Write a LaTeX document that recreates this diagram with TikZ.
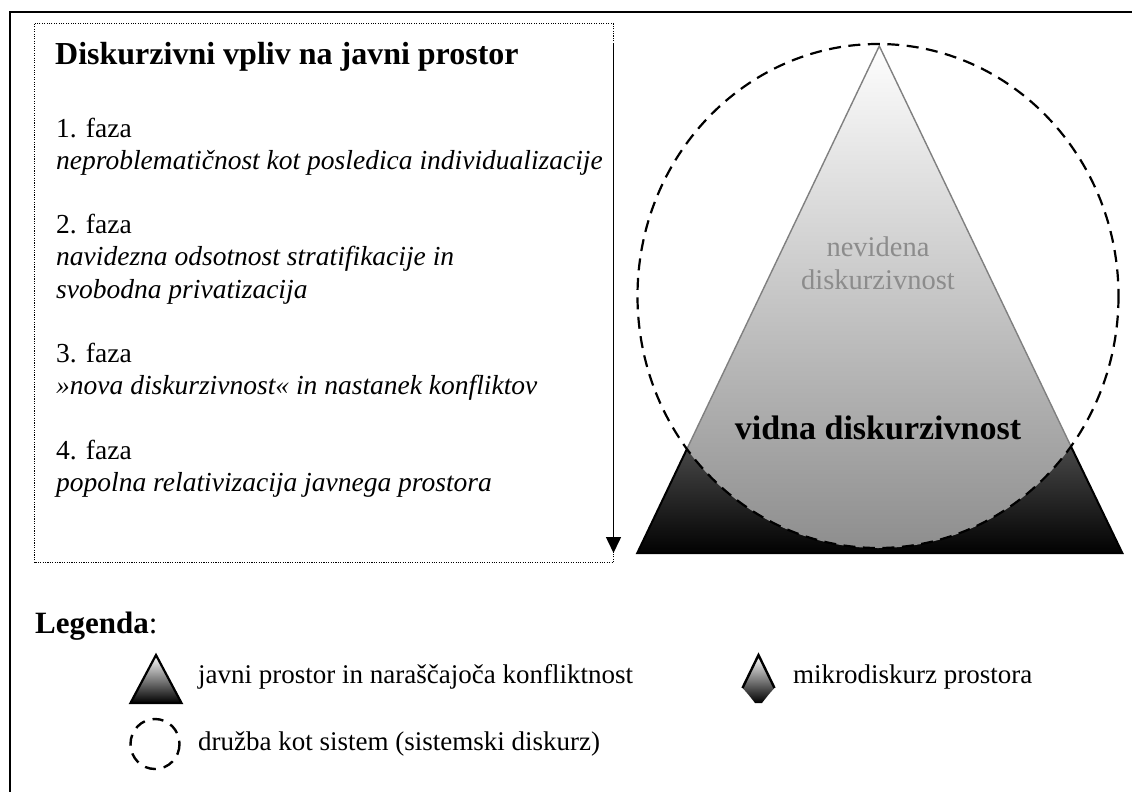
\documentclass[tikz,border=0pt]{standalone}
\usepackage{fontspec}
\setmainfont{Liberation Serif}
\usetikzlibrary{arrows.meta}
\begin{document}
\begin{tikzpicture}[x=1pt,y=-1pt,
  txt/.style={anchor=base west, inner sep=0pt, font=\fontsize{27.5}{31}\selectfont},
  itxt/.style={txt, font=\fontsize{27.5}{31}\selectfont\itshape},
  legtxt/.style={anchor=base west, inner sep=0pt, font=\fontsize{27}{31}\selectfont},
  ttl/.style={anchor=base west, inner sep=0pt, font=\fontsize{32}{36}\selectfont\bfseries},
  midtxt/.style={anchor=base, inner sep=0pt, align=center},
  dotbox/.style={line width=1pt, dash pattern=on 1.1pt off 1.3pt},
  dashcirc/.style={line width=2.2pt, dash pattern=on 12pt off 7.5pt},
  frame/.style={line width=2pt}]
\useasboundingbox (0,0) rectangle (1132,792);
\fill[white] (0,0) rectangle (1132,792);
% outer frame
\coordinate (fr1) at (10,800);
\coordinate (fr2) at (10,12);
\coordinate (fr3) at (1140,12);
\draw[frame] (fr1) -- (fr2) -- (fr3);
% dotted box
\draw[dotbox] (34,24) rectangle (613.5,562.5);
\coordinate (arrS) at (613.5,43);
\coordinate (arrE) at (613.5,553);
\draw[line width=1.5pt, -{Triangle[length=16pt,width=15pt]}] (arrS) -- (arrE);
% left text
\node[ttl] (title) at (55,65) {Diskurzivni vpliv na javni prostor};
\node[txt]  (f1)  at (56,137)   {1. faza};
\node[itxt] (f1t) at (56,169.2) {neproblematičnost kot posledica individualizacije};
\node[txt]  (f2)  at (56,233.6) {2. faza};
\node[itxt] (f2t) at (56,265.8) {navidezna odsotnost stratifikacije in};
\node[itxt] (f2u) at (56,298)   {svobodna privatizacija};
\node[txt]  (f3)  at (56,362.4) {3. faza};
\node[itxt] (f3t) at (56,394.6) {»nova diskurzivnost« in nastanek konfliktov};
\node[txt]  (f4)  at (56,459)   {4. faza};
\node[itxt] (f4t) at (56,491.2) {popolna relativizacija javnega prostora};
% triangle
\coordinate (A) at (879.3,46);
\coordinate (B) at (637.3,553);
\coordinate (C) at (1122.3,553);
\coordinate (P) at (686.9,449);
\coordinate (Q) at (1071,446.5);
\begin{scope}
  \clip (A) -- (B) -- (C) -- cycle;
  \shade[top color=black!70, bottom color=black] (630,440) rectangle (1130,556);
  \clip (878,296) ellipse [x radius=240.5, y radius=252];
  \shade[top color=white, middle color=black!13, bottom color=black!45] (630,40) rectangle (1130,556);
\end{scope}
\draw[black!50, line width=1.4pt, line join=miter] (P) -- (A) -- (Q);
\draw[black, line width=2pt, line join=miter] (P) -- (B) -- (C) -- (Q);
\draw[dashcirc] (878,296) ellipse [x radius=240.5, y radius=252];
\node[midtxt, text=black!45, font=\fontsize{28.5}{33}\selectfont] (nev) at (878,256) {nevidena};
\node[midtxt, text=black!45, font=\fontsize{28.5}{33}\selectfont] (nev2) at (878,289) {diskurzivnost};
\node[midtxt, font=\fontsize{34}{38}\selectfont\bfseries] (vid) at (878,439) {vidna diskurzivnost};
% legend
\node[anchor=base west, inner sep=0pt, font=\fontsize{31}{35}\selectfont] (leg) at (35,633) {\textbf{Legenda}:};
\coordinate (lt1) at (156,655);
\coordinate (lt2) at (130.5,703);
\coordinate (lt3) at (181.5,703);
\shade[top color=white, bottom color=black] (lt1) -- (lt2) -- (lt3) -- cycle;
\draw[line width=2.2pt, line join=miter] (lt1) -- (lt2) -- (lt3) -- cycle;
\node[legtxt] (l1) at (198,683) {javni prostor in naraščajoča konfliktnost};
\draw[line width=2.4pt, dash pattern=on 11pt off 8pt] (155,744) ellipse [x radius=24.5, y radius=25];
\node[legtxt] (l2) at (198,750) {družba kot sistem (sistemski diskurz)};
% micro icon
\coordinate (m1) at (758.5,655);
\coordinate (m2) at (742.5,688);
\coordinate (m3) at (755,703);
\coordinate (m4) at (762,703);
\coordinate (m5) at (774.5,688);
\shade[top color=white, bottom color=black] (m1) -- (m2) .. controls (748,694) .. (m3) -- (m4) .. controls (769,694) .. (m5) -- cycle;
\draw[line width=2.4pt, line join=miter] (m2) -- (m1) -- (m5);
\node[legtxt] (l3) at (793,683) {mikrodiskurz prostora};
\end{tikzpicture}
\end{document}
